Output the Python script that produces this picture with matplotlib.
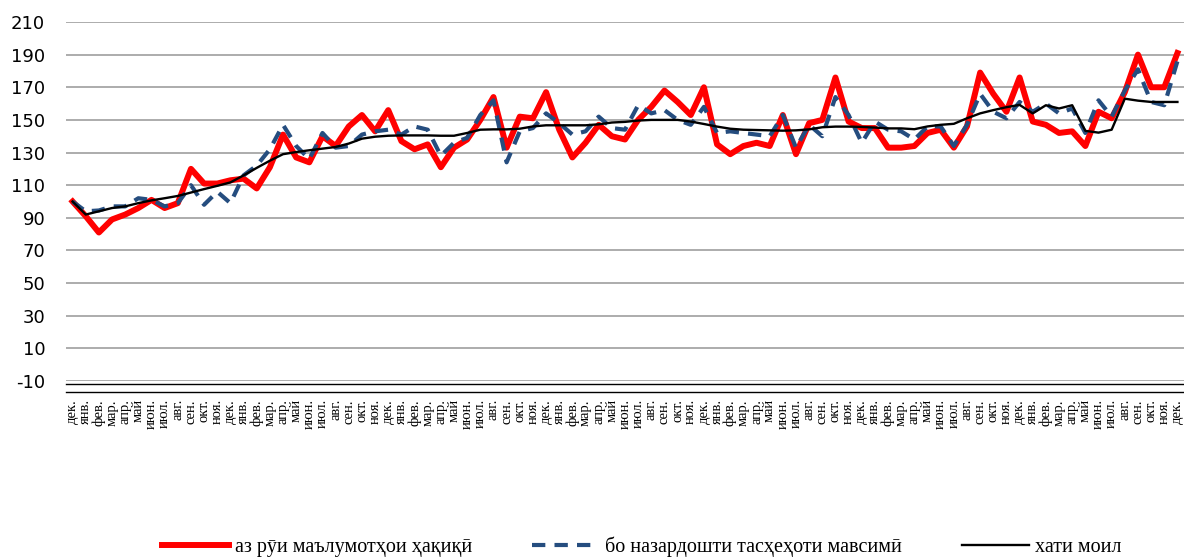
import numpy as np
import matplotlib.pyplot as plt
from matplotlib.lines import Line2D

plt.rcParams["axes.unicode_minus"] = False

# --- Маълумот ---
months = ["янв.", "фев.", "мар.", "апр.", "май", "июн.", "июл.", "авг.",
          "сен.", "окт.", "ноя.", "дек."]
n_points = 85
labels = [months[(11 + i) % 12] for i in range(n_points)]  # аз дек. cap мешавад

actual = [100, 91, 81, 89, 92, 96, 101, 96, 99, 120,
          111, 111, 113, 114, 108, 121, 141, 127, 124, 140,
          134, 146, 153, 143, 156, 137, 132, 135, 121, 133,
          138, 150, 164, 133, 152, 151, 167, 144, 127, 136,
          147, 140, 138, 150, 158, 168, 161, 153, 170, 135,
          129, 134, 136, 134, 153, 129, 148, 150, 176, 149,
          145, 145, 133, 133, 134, 142, 144, 133, 146, 179,
          166, 155, 176, 149, 147, 142, 143, 134, 155, 151,
          167, 190, 170, 170, 191]

seasonal = [100, 94, 94.5, 97, 97, 102, 101, 97, 99, 110,
            98, 106, 99, 116, 122, 132, 147, 134, 126, 142,
            133, 134, 141, 143, 144, 141, 146, 144, 128, 136,
            139, 153, 162, 124, 143, 145, 154, 148, 141, 143,
            152, 145, 144, 159, 154, 156, 150, 147, 158, 142,
            143, 142, 141, 140, 153, 133, 147, 140, 164, 153,
            136, 149, 144, 143, 138, 146, 146, 134, 147, 166,
            155, 151, 161, 155, 160, 154, 157, 142, 162, 152,
            168, 181, 161, 159, 186]

trend = [100, 92, 94, 96, 97, 99, 100.7, 102, 103.4, 105.5,
         107.6, 109.6, 111.7, 116, 120.6, 125, 129, 130.3, 131.4, 132.4,
         133.4, 135.5, 138.5, 139.7, 140.3, 140.5, 140.5, 140.5, 140.3, 140.3,
         142, 144, 144.2, 144.2, 144.6, 146, 146.7, 146.7, 146.7, 146.7,
         147.3, 148.4, 148.8, 149.6, 150, 150, 150, 149, 147.5, 145.9,
         144.6, 144, 143.8, 143.6, 143.4, 143.6, 144.2, 145.5, 145.9, 145.9,
         145.7, 145.3, 144.8, 144.8, 144.3, 146, 147, 147.6, 151, 154,
         156, 157.8, 159.2, 154, 159, 157, 159, 143.3, 142.2, 144,
         163, 161.8, 161, 161, 161]

legend_names = ["аз рӯи маълумотҳои ҳақиқӣ",
                "бо назардошти тасҳеҳоти мавсимӣ",
                "хати моил"]

# --- Расм ---
W, H = 1184, 558
fig = plt.figure(figsize=(W / 100, H / 100), dpi=100)
ax = fig.add_axes([66 / W, 1 - 381 / H, 1 - 66 / W, (381 - 22) / H])

x = np.arange(n_points)
l1, = ax.plot(x, actual, color="#ff0000", lw=4.3, zorder=3)
l2, = ax.plot(x, seasonal, color="#254d7f", lw=3.0, dashes=(3.2, 2.2), zorder=4)
l3, = ax.plot(x, trend, color="black", lw=1.7, zorder=5)

ax.set_xlim(-0.5, n_points - 0.5)
ax.set_ylim(-10, 210)
ax.set_yticks(np.arange(-10, 211, 20))
ax.grid(axis="y", color="#a6a6a6", lw=1.3)
ax.set_axisbelow(True)
for s in ax.spines.values():
    s.set_visible(False)

ax.set_xticks(x)
ax.set_xticklabels(labels, rotation=90, va="top", ha="center",
                   fontsize=10.5, family="Liberation Serif")
ax.tick_params(axis="x", length=0, pad=13)
ax.tick_params(axis="y", length=0, pad=15, labelsize=13)

# сатрҳои зери меҳвар
for yy in (384, 392):
    fig.add_artist(Line2D([66 / W, 1], [1 - yy / H, 1 - yy / H],
                          color="black", lw=1.0, transform=fig.transFigure))

fig.legend([l1, l2, l3], legend_names, loc="center", ncol=3,
           bbox_to_anchor=(0.542, 0.02), frameon=False, handlelength=3.3,
           handletextpad=0.3, columnspacing=3.0,
           prop={"family": "Liberation Serif", "size": 14.5})

fig.savefig("out.png", dpi=100)
